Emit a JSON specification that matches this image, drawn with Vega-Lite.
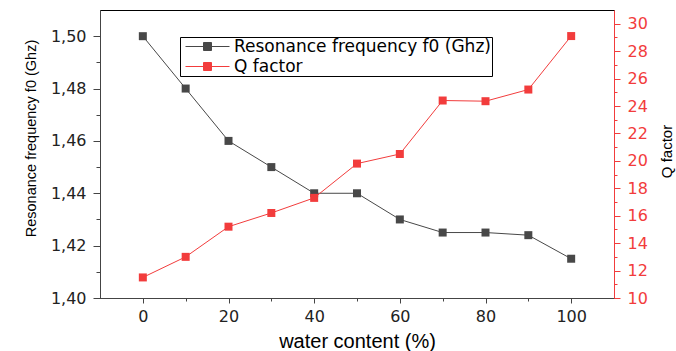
{
  "$schema": "https://vega.github.io/schema/vega-lite/v6.json",
  "width": 514,
  "height": 288,
  "autosize": {"type": "none"},
  "padding": {"left": 100, "top": 10, "right": 62, "bottom": 53},
  "background": "white",
  "config": {
    "locale": {"number": {"decimal": ",", "thousands": ".", "grouping": [3], "currency": ["", ""]}},
    "view": {"stroke": "#000000", "strokeWidth": 1},
    "axis": {"grid": false, "labelFont": "DejaVu Sans", "labelFontSize": 16, "titleFont": "Liberation Sans", "titleFontWeight": "normal", "labelColor": "#222222", "titleColor": "#000000", "domainColor": "#444444", "tickColor": "#444444"}
  },
  "data": {"values": [
    {"w": 0, "s": "Resonance frequency f0 (Ghz)", "v": 1.500},
    {"w": 10, "s": "Resonance frequency f0 (Ghz)", "v": 1.480},
    {"w": 20, "s": "Resonance frequency f0 (Ghz)", "v": 1.460},
    {"w": 30, "s": "Resonance frequency f0 (Ghz)", "v": 1.450},
    {"w": 40, "s": "Resonance frequency f0 (Ghz)", "v": 1.440},
    {"w": 50, "s": "Resonance frequency f0 (Ghz)", "v": 1.440},
    {"w": 60, "s": "Resonance frequency f0 (Ghz)", "v": 1.430},
    {"w": 70, "s": "Resonance frequency f0 (Ghz)", "v": 1.425},
    {"w": 80, "s": "Resonance frequency f0 (Ghz)", "v": 1.425},
    {"w": 90, "s": "Resonance frequency f0 (Ghz)", "v": 1.424},
    {"w": 100, "s": "Resonance frequency f0 (Ghz)", "v": 1.415},
    {"w": 0, "s": "Q factor", "v": 11.5},
    {"w": 10, "s": "Q factor", "v": 13.0},
    {"w": 20, "s": "Q factor", "v": 15.2},
    {"w": 30, "s": "Q factor", "v": 16.2},
    {"w": 40, "s": "Q factor", "v": 17.3},
    {"w": 50, "s": "Q factor", "v": 19.8},
    {"w": 60, "s": "Q factor", "v": 20.5},
    {"w": 70, "s": "Q factor", "v": 24.4},
    {"w": 80, "s": "Q factor", "v": 24.35},
    {"w": 90, "s": "Q factor", "v": 25.2},
    {"w": 100, "s": "Q factor", "v": 29.1}
  ]},
  "encoding": {
    "x": {"field": "w", "type": "quantitative",
      "scale": {"domain": [-10, 110], "nice": false, "zero": false},
      "axis": {"title": "water content (%)", "titleFontSize": 20, "titlePadding": 7,
        "values": [0, 10, 20, 30, 40, 50, 60, 70, 80, 90, 100],
        "labelExpr": "datum.value % 20 == 0 ? datum.label : ''",
        "tickSize": {"condition": {"test": "datum.value % 20 == 0", "value": 5}, "value": 3},
        "labelPadding": 5, "labelFlush": false, "labelOverlap": false}}
  },
  "layer": [
    {
      "transform": [{"filter": "datum.s == 'Resonance frequency f0 (Ghz)'"}],
      "encoding": {
        "y": {"field": "v", "type": "quantitative",
          "scale": {"domain": [1.40, 1.51], "nice": false, "zero": false},
          "axis": {"title": "Resonance frequency f0 (Ghz)", "titleFontSize": 14.5, "titlePadding": 12,
            "titleY": 128, "titleAlign": "center",
            "values": [1.40, 1.41, 1.42, 1.43, 1.44, 1.45, 1.46, 1.47, 1.48, 1.49, 1.50],
            "format": ".2f",
            "labelExpr": "round(datum.value*100) % 2 == 0 ? datum.label : ''",
            "tickSize": {"condition": {"test": "round(datum.value*100) % 2 == 0", "value": 7}, "value": 4},
            "labelPadding": 7, "labelOverlap": false, "labelFlush": false}},
        "color": {"field": "s", "type": "nominal",
          "scale": {"domain": ["Resonance frequency f0 (Ghz)", "Q factor"], "range": ["#484848", "#f23c3c"]},
          "legend": {"title": null, "orient": "none", "legendX": 80, "legendY": 27,
            "labelFont": "DejaVu Sans", "labelFontSize": 17, "labelColor": "#000000", "labelLimit": 500,
            "strokeColor": "#000000", "fillColor": "#ffffff", "padding": 1, "rowPadding": 2,
            "symbolType": "M-4.4,0H4.4M-0.8,-0.8H0.8V0.8H-0.8Z", "symbolSize": 100, "symbolStrokeWidth": 1,
            "symbolOffset": 18, "labelOffset": 18,
            "encode": {"symbols": {"update": {"fill": {"scale": "color", "field": "value"}, "stroke": {"scale": "color", "field": "value"}, "strokeWidth": {"value": 1}}}}}}
      },
      "layer": [
        {"mark": {"type": "line", "strokeWidth": 1}},
        {"mark": {"type": "point", "shape": "square", "filled": true, "size": 64, "opacity": 1}}
      ]
    },
    {
      "transform": [{"filter": "datum.s == 'Q factor'"}],
      "encoding": {
        "y": {"field": "v", "type": "quantitative",
          "scale": {"domain": [10, 31], "nice": false, "zero": false},
          "axis": {"orient": "right", "title": "Q factor", "titleFontSize": 15, "titleAngle": 270,
            "titleX": 52, "titleY": 141, "titleAlign": "center", "titleBaseline": "middle",
            "values": [10, 11, 12, 13, 14, 15, 16, 17, 18, 19, 20, 21, 22, 23, 24, 25, 26, 27, 28, 29, 30],
            "labelExpr": "datum.value % 2 == 0 ? datum.label : ''",
            "tickSize": {"condition": {"test": "datum.value % 2 == 0", "value": 6}, "value": 3},
            "labelPadding": 7, "labelOverlap": false, "labelFlush": false,
            "domainColor": "#f23c3c", "tickColor": "#f23c3c", "labelColor": "#f23c3c"}},
        "color": {"field": "s", "type": "nominal"}
      },
      "layer": [
        {"mark": {"type": "line", "strokeWidth": 1}},
        {"mark": {"type": "point", "shape": "square", "filled": true, "size": 64, "opacity": 1}}
      ]
    }
  ],
  "resolve": {"scale": {"y": "independent"}}
}
